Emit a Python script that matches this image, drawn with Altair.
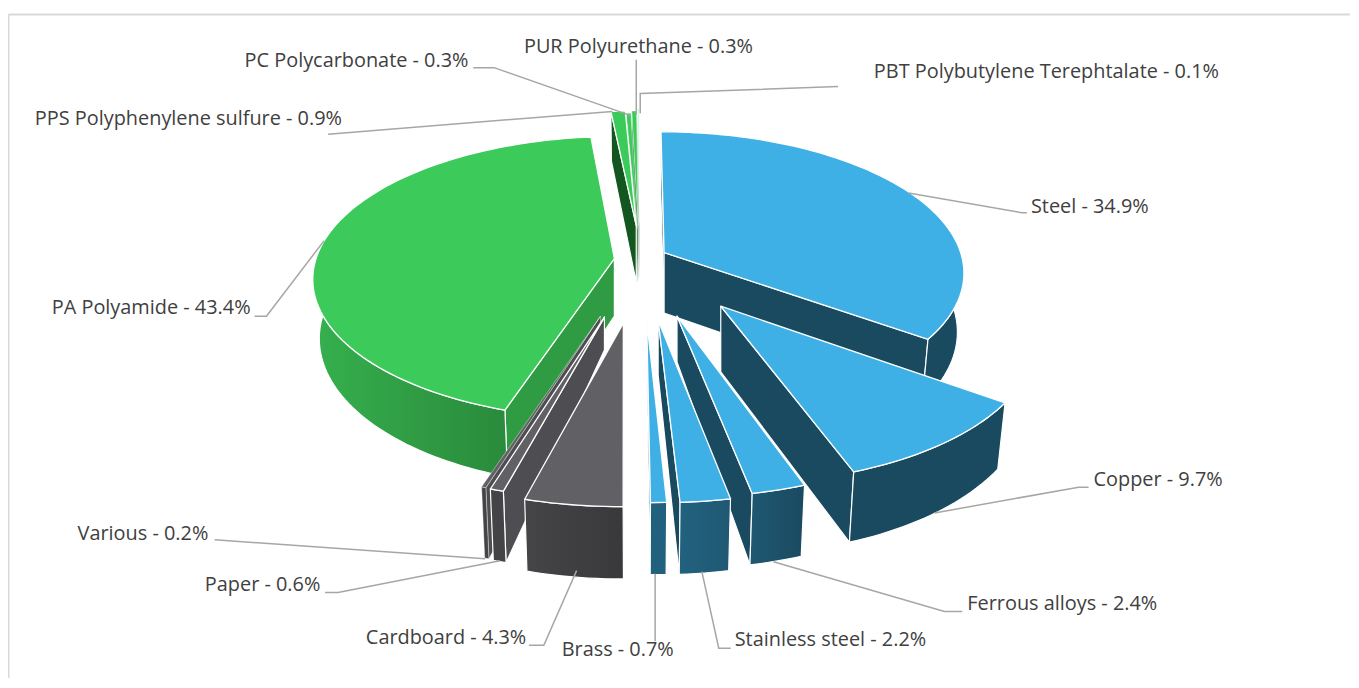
import math
import altair as alt

# ---- chart values, clockwise from 12 o'clock ----
names = ["Steel", "Copper", "Ferrous alloys", "Stainless steel", "Brass", "Cardboard", "Paper",
         "Various", "PA Polyamide", "PPS Polyphenylene sulfure", "PC Polycarbonate",
         "PUR Polyurethane", "PBT Polybutylene Terephtalate"]
shares = [34.9, 9.7, 2.4, 2.2, 0.7, 4.3, 0.6, 0.2, 43.4, 0.9, 0.3, 0.3, 0.1]

# ---- exploded position of each slice's tip ----
tip_x = [668, 725, 681, 662, 650.5, 627, 608, 604, 618, 640, 641, 642, 643]
tip_y = [252, 306, 316, 320, 320, 323, 317, 316, 258, 225, 228, 225, 222]
tip_depth = [61, 66, 46, 55, 60, 60, 33, 33, 58, 57, 55, 55, 55]

# ---- colours per slice ----
top_fill = ["#3fb0e5"] * 5 + ["#616165"] * 3 + ["#3ccb5a"] * 4 + ["#c9f2d3"]
wall_fill = ["#1a4a60"] * 5 + ["#4e4d51"] * 3 + ["#2f9b42", "#14561f", "#14561f", "#14561f", "#14561f"]
outer_from = ["#1a4a60", "#1a4a60", "#1f5872", "#22627f", "#22617d", "#454548", "#444447", "#444447",
              "#36b04e", "#2f9b42", "#2f9b42", "#2f9b42", "#2f9b42"]
outer_to = ["#1a4a60", "#1a4a60", "#1a4a60", "#1f5872", "#22617d", "#39393b", "#444447", "#444447",
            "#298a3b", "#2f9b42", "#2f9b42", "#2f9b42", "#2f9b42"]
paint_order = [12, 11, 10, 9, 0, 8, 7, 6, 5, 1, 2, 3, 4]

# ---- labels and leader lines ----
label_x = [1037, 1100, 973, 739, 565, 368, 206, 78, 52, 35, 246, 527, 879]
label_y = [206, 481, 606, 642, 652, 640, 586, 535, 308, 118, 59, 45, 70]
leaders = [
    [(914, 192), (1028, 212), (1033, 212)],
    [(940, 514), (1085, 488), (1095, 488)],
    [(778, 563), (950, 613), (968, 613)],
    [(706, 573), (723, 650), (735, 650)],
    [(659, 575), (659, 643)],
    [(580, 572), (547, 647), (532, 647)],
    [(503, 562), (340, 594), (327, 594)],
    [(488, 560), (216, 541)],
    [(326, 240), (268, 316), (256, 316)],
    [(330, 133), (616, 110)],
    [(476, 66), (497, 66), (634, 114)],
    [(640, 58), (640, 113)],
    [(843, 85), (644, 92), (644, 112)],
]

# ---- perspective used for the tilted pie ----
CX, CY, A, B, P, DEPTH, SHRINK = 642, 285, 308, 147, 0.14, 60, 0.98
W, H = 1351, 672


def tip_world(sx, sy):
    u = (sy - CY) / B
    z = u / (1 + P * u)
    return (sx - CX) / A * (1 - P * z), z


def project(x, z, bottom=False):
    w = 1 - P * z
    sx, sy = A * x / w, B * z / w
    if bottom:
        return CX + sx * SHRINK, CY + sy + DEPTH / w
    return CX + sx, CY + sy


def rim(i, a0, a1):
    x0, z0 = tip_world(tip_x[i], tip_y[i])
    n = max(2, int(abs(a1 - a0) / 1.5) + 2)
    out = []
    for k in range(n):
        deg = a0 + (a1 - a0) * k / (n - 1)
        t = math.radians(deg)
        out.append((x0 + math.sin(t), z0 - math.cos(t), math.cos(t)))
    return (x0, z0), out


def area(poly):
    return sum(poly[k][0] * poly[(k + 1) % len(poly)][1] - poly[(k + 1) % len(poly)][0] * poly[k][1]
               for k in range(len(poly)))


x_scale = alt.Scale(domain=[8, 8 + W], nice=False, zero=False)
y_scale = alt.Scale(domain=[8 + H, 8], nice=False, zero=False)
X = alt.X("px:Q", scale=x_scale, axis=None)
Y = alt.Y("py:Q", scale=y_scale, axis=None)


def face(points, fill, stroke_width):
    rows = [{"px": p[0], "py": p[1], "i": k} for k, p in enumerate(points)]
    return (
        alt.Chart(alt.Data(values=rows))
        .mark_line(interpolate="linear-closed", fill=fill, stroke="#ffffff",
                   strokeWidth=stroke_width, strokeJoin="round")
        .encode(x=X, y=Y, order=alt.Order("i:Q"))
    )


starts = [sum(shares[:k]) * 3.6 for k in range(len(shares))]
layers = []

# frame of the chart area
for seg in [[(8.5, 680), (8.5, 12.5)], [(8.5, 12.5), (1358, 12.5)]]:
    rows = [{"px": p[0], "py": p[1], "i": k} for k, p in enumerate(seg)]
    layers.append(
        alt.Chart(alt.Data(values=rows)).mark_line(color="#d9d9d9", strokeWidth=2)
        .encode(x=X, y=Y, order=alt.Order("i:Q"))
    )

for i in paint_order:
    a0, a1 = starts[i], starts[i] + shares[i] * 3.6
    tip, arc = rim(i, a0, a1)
    top = [project(*tip)] + [project(p[0], p[1]) for p in arc]
    thin = shares[i] < 0.5
    sw_wall = 0.4 if thin else 1.2
    sw_top = 0.4 if thin else 1.3
    tip_s = project(*tip)
    tip_b = (tip_s[0], tip_s[1] + tip_depth[i])
    for end, sign in ((arc[0], -1), (arc[-1], 1)):
        poly = [tip_s, project(end[0], end[1]), project(end[0], end[1], bottom=True), tip_b]
        if area(poly) * sign > 0:
            layers.append(face(poly, wall_fill[i], sw_wall))
    front = [p for p in arc if p[2] < 0.12]
    if len(front) >= 2:
        outer = [project(p[0], p[1]) for p in front] + [project(p[0], p[1], bottom=True) for p in reversed(front)]
        fill = outer_from[i]
        if outer_from[i] != outer_to[i]:
            fill = alt.LinearGradient(
                gradient="linear", x1=0, x2=1, y1=0, y2=0,
                stops=[alt.GradientStop(color=outer_from[i], offset=0),
                       alt.GradientStop(color=outer_to[i], offset=1)],
            )
        layers.append(face(outer, fill, sw_wall))
    layers.append(face(top, top_fill[i], sw_top))

# leader lines
leader_rows = []
for name, seg in zip(names, leaders):
    for k, p in enumerate(seg):
        leader_rows.append({"name": name, "px": p[0], "py": p[1], "i": k})
layers.append(
    alt.Chart(alt.Data(values=leader_rows)).mark_line(color="#a6a6a6", strokeWidth=1.5)
    .encode(x=X, y=Y, detail="name:N", order=alt.Order("i:Q"))
)

# labels
label_rows = [
    {"label": f"{n} - {s}%", "px": x, "py": y}
    for n, s, x, y in zip(names, shares, label_x, label_y)
]
layers.append(
    alt.Chart(alt.Data(values=label_rows))
    .mark_text(align="left", baseline="middle", font="Open Sans", fontSize=20, color="#404040")
    .encode(x=X, y=Y, text="label:N")
)

chart = (
    alt.layer(*layers)
    .properties(width=W, height=H, padding=0, autosize=alt.AutoSizeParams(type="none"), background="#ffffff")
    .configure_view(strokeWidth=0)
)
chart.save("out.html", embed_options={"renderer": "svg", "actions": False})
